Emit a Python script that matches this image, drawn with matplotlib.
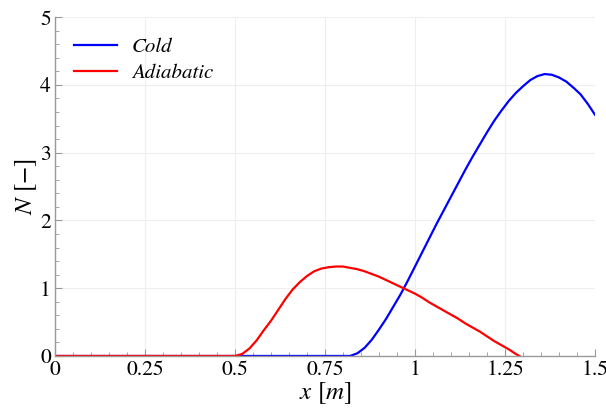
import matplotlib
matplotlib.use("Agg")
import matplotlib.pyplot as plt
from matplotlib.ticker import MultipleLocator

# curves
x_cold = [0.0, 0.5, 0.82, 0.84, 0.86, 0.88, 0.90, 0.92, 0.94, 0.96, 0.98, 1.00,
          1.02, 1.04, 1.06, 1.08, 1.10, 1.12, 1.14, 1.16, 1.18, 1.20, 1.22, 1.24,
          1.26, 1.28, 1.30, 1.32, 1.34, 1.36, 1.38, 1.40, 1.42, 1.44, 1.46, 1.48, 1.50]
n_cold = [0.0, 0.0, 0.0, 0.04, 0.12, 0.24, 0.39, 0.55, 0.73, 0.91, 1.11, 1.32,
          1.53, 1.74, 1.95, 2.15, 2.35, 2.55, 2.75, 2.94, 3.12, 3.30, 3.47, 3.62,
          3.76, 3.88, 3.98, 4.07, 4.13, 4.16, 4.15, 4.11, 4.05, 3.96, 3.86, 3.72, 3.56]

x_adiab = [0.0, 0.50, 0.52, 0.54, 0.56, 0.58, 0.60, 0.62, 0.64, 0.66, 0.68, 0.70,
           0.72, 0.74, 0.76, 0.78, 0.80, 0.82, 0.84, 0.86, 0.88, 0.90, 0.92, 0.94,
           0.96, 0.98, 1.00, 1.02, 1.04, 1.06, 1.08, 1.10, 1.12, 1.14, 1.16, 1.18,
           1.20, 1.22, 1.24, 1.26, 1.28, 1.29]
n_adiab = [0.0, 0.0, 0.03, 0.11, 0.23, 0.38, 0.52, 0.68, 0.84, 0.98, 1.09, 1.18,
           1.25, 1.29, 1.31, 1.32, 1.32, 1.30, 1.28, 1.25, 1.21, 1.17, 1.12, 1.07,
           1.02, 0.97, 0.92, 0.86, 0.79, 0.73, 0.67, 0.61, 0.55, 0.48, 0.42, 0.36,
           0.29, 0.22, 0.16, 0.10, 0.03, 0.0]

xticks = [0, 0.25, 0.5, 0.75, 1, 1.25, 1.5]
xticklabels = ["0", "0.25", "0.5", "0.75", "1", "1.25", "1.5"]

# STIX ships with matplotlib and is close to the Times look of the reference
plt.rcParams['font.family'] = ['STIXGeneral', 'DejaVu Serif']
plt.rcParams['mathtext.fontset'] = 'stix'

fig = plt.figure(figsize=(6.06, 4.08), dpi=100)
ax = fig.add_axes([0.0908, 0.1275, 0.891, 0.8305])

ax.plot(x_cold, n_cold, color='#0000ff', lw=1.6, label='Cold')
ax.plot(x_adiab, n_adiab, color='#ff0000', lw=1.6, label='Adiabatic')

ax.set_xlim(0, 1.5)
ax.set_ylim(0, 5)
ax.set_xticks(xticks)
ax.set_xticklabels(xticklabels)
ax.xaxis.set_minor_locator(MultipleLocator(0.05))
ax.yaxis.set_minor_locator(MultipleLocator(0.2))

for s in ['top', 'right']:
    ax.spines[s].set_visible(False)
for s in ['left', 'bottom']:
    ax.spines[s].set_color('#999999')
    ax.spines[s].set_linewidth(1.0)

ax.tick_params(which='both', direction='in', color='#999999', labelsize=15.5)
ax.tick_params(which='major', length=5, pad=3)
ax.tick_params(which='minor', length=3)
ax.grid(True, which='major', color='#eeeeee', lw=0.8)
ax.set_axisbelow(True)

ax.set_xlabel(r'$x$ [$m$]', fontsize=18, labelpad=0)
ax.set_ylabel(r'$N$ [$-$]', fontsize=18, labelpad=1)

leg = ax.legend(loc='upper left', frameon=False,
                prop={'style': 'italic', 'size': 15},
                handlelength=2.07, handletextpad=0.72, labelspacing=0.35,
                bbox_to_anchor=(0.0, 0.995))

fig.savefig('out.png', dpi=100)
